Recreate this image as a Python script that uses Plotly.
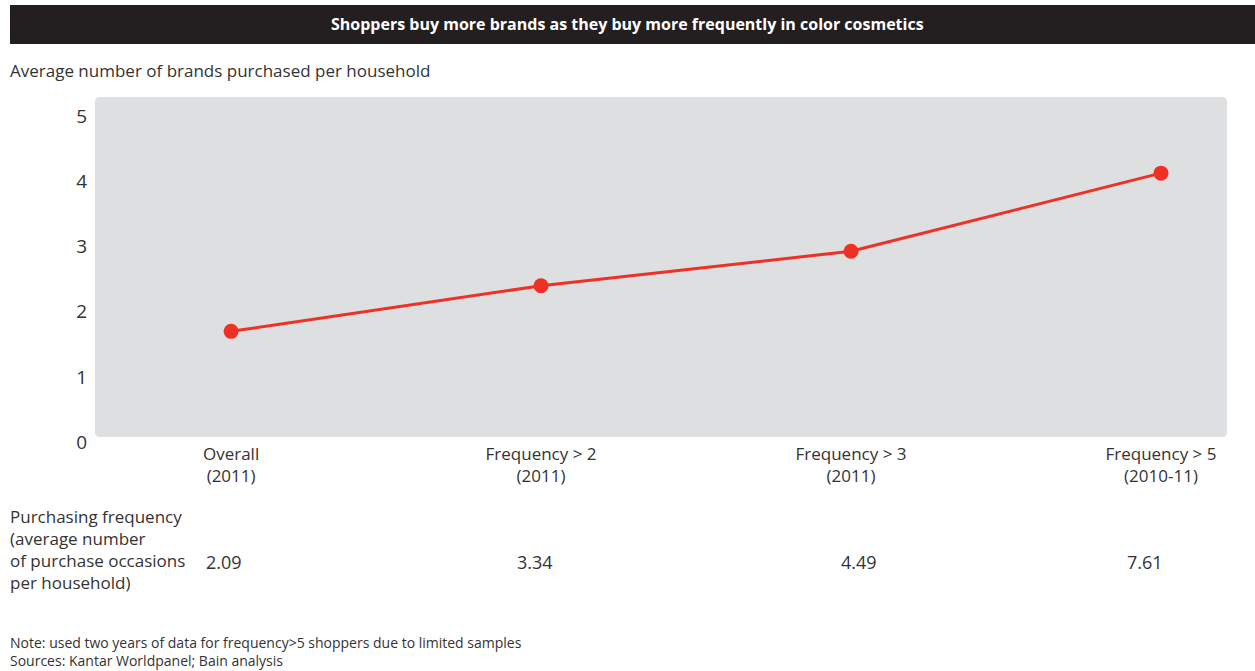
import plotly.graph_objects as go

categories = ["Overall<br>(2011)", "Frequency > 2<br>(2011)", "Frequency > 3<br>(2011)", "Frequency > 5<br>(2010-11)"]
brands = [1.70, 2.40, 2.93, 4.13]
frequency = ["2.09", "3.34", "4.49", "7.61"]
y_ticks = [0, 1, 2, 3, 4, 5]

FONT = "Open Sans"
RED = "#ee3124"
TXT = "#333333"
GRAY = "#dedfe0"

x_idx = list(range(len(categories)))

W, H = 1255, 671
ML, MR, MT, MB = 95, 28, 97, 229
PW, PH = W - ML - MR, H - MT - MB

def px_x(px):
    return (px - ML) / PW

def px_y(py):
    return (H - MB - py) / PH

fig = go.Figure()
fig.add_trace(go.Scatter(
    x=x_idx, y=brands, mode="lines+markers",
    line=dict(color=RED, width=3),
    marker=dict(color=RED, size=15),
    hoverinfo="skip", showlegend=False,
))

fig.update_layout(
    width=W, height=H,
    margin=dict(l=ML, r=MR, t=MT, b=MB),
    paper_bgcolor="white",
    plot_bgcolor="white",
    font=dict(family=FONT, color=TXT),
    xaxis=dict(
        range=[-0.439, 3.213], tickvals=x_idx, ticktext=categories,
        showgrid=False, zeroline=False, showline=False,
        tickfont=dict(size=17, color=TXT), ticks="",
    ),
    yaxis=dict(
        range=[0, 5.3], tickvals=y_ticks,
        showgrid=False, zeroline=False, showline=False,
        tickfont=dict(size=19, color=TXT), ticks="outside", ticklen=3, tickcolor="rgba(0,0,0,0)",
    ),
)

# Rounded grey plot background
x0, x1, y0, y1, r = 95, 1227, 97, 437, 5
path = (f"M {px_x(x0 + r)},{px_y(y0)} L {px_x(x1 - r)},{px_y(y0)} "
        f"Q {px_x(x1)},{px_y(y0)} {px_x(x1)},{px_y(y0 + r)} "
        f"L {px_x(x1)},{px_y(y1 - r)} Q {px_x(x1)},{px_y(y1)} {px_x(x1 - r)},{px_y(y1)} "
        f"L {px_x(x0 + r)},{px_y(y1)} Q {px_x(x0)},{px_y(y1)} {px_x(x0)},{px_y(y1 - r)} "
        f"L {px_x(x0)},{px_y(y0 + r)} Q {px_x(x0)},{px_y(y0)} {px_x(x0 + r)},{px_y(y0)} Z")
fig.add_shape(type="path", xref="paper", yref="paper", path=path,
              fillcolor=GRAY, line=dict(width=0), layer="below")

# Title bar
fig.add_shape(type="rect", xref="paper", yref="paper",
              x0=px_x(10), x1=px_x(W), y0=px_y(44), y1=px_y(5),
              fillcolor="#231f20", line=dict(width=0), layer="above")

fig.add_annotation(x=px_x(627), y=px_y(24), xref="paper", yref="paper",
                   text="<b>Shoppers buy more brands as they buy more frequently in color cosmetics</b>",
                   showarrow=False, font=dict(size=16, color="white", family=FONT),
                   xanchor="center", yanchor="middle")

fig.add_annotation(x=px_x(8), y=px_y(70), xref="paper", yref="paper",
                   text="Average number of brands purchased per household",
                   showarrow=False, font=dict(size=17, color=TXT),
                   xanchor="left", yanchor="middle")

fig.add_annotation(x=px_x(8), y=px_y(549), xref="paper", yref="paper",
                   text="Purchasing frequency<br>(average number<br>of purchase occasions<br>per household)",
                   showarrow=False, font=dict(size=17, color=TXT), align="left",
                   xanchor="left", yanchor="middle")

value_shift = [-7, -6, 8, -16]
for i, v in enumerate(frequency):
    fig.add_annotation(x=i, y=px_y(562), xref="x", yref="paper", text=v,
                       showarrow=False, font=dict(size=18, color=TXT),
                       xanchor="center", yanchor="middle", xshift=value_shift[i])

fig.add_annotation(x=px_x(8), y=px_y(651), xref="paper", yref="paper",
                   text="Note: used two years of data for frequency>5 shoppers due to limited samples<br>Sources: Kantar Worldpanel; Bain analysis",
                   showarrow=False, font=dict(size=14, color=TXT), align="left",
                   xanchor="left", yanchor="middle")

fig.write_html("out.html")
